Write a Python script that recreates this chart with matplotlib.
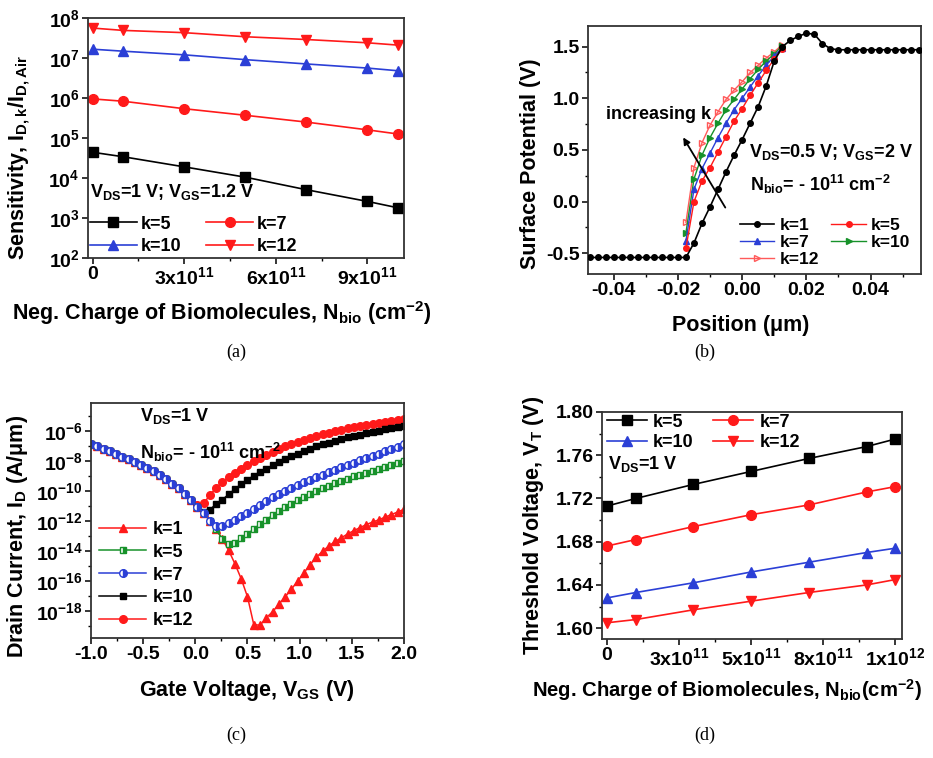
import numpy as np
import matplotlib
matplotlib.use('Agg')
import matplotlib.pyplot as plt
from matplotlib.ticker import MultipleLocator, FixedLocator, FuncFormatter, NullLocator

plt.rcParams['font.family'] = ['Liberation Sans', 'DejaVu Sans']
plt.rcParams['font.weight'] = 'bold'
plt.rcParams['axes.labelweight'] = 'bold'
plt.rcParams['mathtext.fontset'] = 'custom'
plt.rcParams['mathtext.rm'] = 'Liberation Sans:bold'
plt.rcParams['mathtext.it'] = 'Liberation Sans:bold'
plt.rcParams['mathtext.bf'] = 'Liberation Sans:bold'
plt.rcParams['mathtext.sf'] = 'Liberation Sans:bold'
plt.rcParams['mathtext.default'] = 'rm'

RED = '#ff1a1a'
BLUE = '#2b3fd6'
GREEN = '#17922a'
PINK = '#ff5a5a'

# ---- (a) sensitivity vs charge ----
nbio_a = [0, 1e11, 3e11, 5e11, 7e11, 9e11, 1e12]
sens_k5 = [4.4e4, 3.4e4, 1.9e4, 1.05e4, 5.1e3, 2.6e3, 1.8e3]
sens_k7 = [9.5e5, 8.3e5, 5.4e5, 3.7e5, 2.5e5, 1.6e5, 1.26e5]
sens_k10 = [1.66e7, 1.48e7, 1.2e7, 9.1e6, 7.1e6, 5.6e6, 4.8e6]
sens_k12 = [5.6e7, 4.9e7, 4.3e7, 3.4e7, 2.9e7, 2.4e7, 2.1e7]
a_xticks = [0, 3e11, 6e11, 9e11]
a_xlabels = ['0', r'3x10$^{11}$', r'6x10$^{11}$', r'9x10$^{11}$']

# ---- (b) surface potential vs position ----
pos_left = [-0.0475, -0.045, -0.0425, -0.04, -0.0375, -0.035, -0.0325, -0.03,
            -0.0275, -0.025, -0.0225, -0.02]
psi_left = [-0.54, -0.54, -0.54, -0.54, -0.54, -0.54, -0.54, -0.54,
            -0.54, -0.54, -0.54, -0.54]
pos_mid = [-0.0175, -0.015, -0.0125, -0.01, -0.0075, -0.005, -0.0025, 0.0,
           0.0025, 0.005, 0.0075, 0.01, 0.0125]
psi_k1 = [-0.54, -0.40, -0.21, -0.05, 0.12, 0.29, 0.45, 0.60, 0.76, 0.92, 1.12, 1.36, 1.50]
psi_k5 = [-0.45, 0.00, 0.20, 0.33, 0.48, 0.63, 0.78, 0.90, 1.03, 1.15, 1.27, 1.38, 1.48]
psi_k7 = [-0.38, 0.12, 0.32, 0.47, 0.62, 0.76, 0.89, 1.00, 1.11, 1.22, 1.32, 1.41, 1.49]
psi_k10 = [-0.30, 0.22, 0.45, 0.62, 0.76, 0.89, 0.99, 1.09, 1.19, 1.28, 1.36, 1.43, 1.51]
psi_k12 = [-0.20, 0.33, 0.57, 0.74, 0.87, 0.99, 1.08, 1.16, 1.25, 1.32, 1.39, 1.45, 1.52]
pos_right = [0.015, 0.0175, 0.02, 0.0225, 0.025, 0.0275, 0.03, 0.0325, 0.035, 0.0375,
             0.04, 0.0425, 0.045, 0.0475, 0.05, 0.0525, 0.055]
psi_right = [1.56, 1.60, 1.63, 1.62, 1.53, 1.48, 1.47, 1.47, 1.47, 1.47,
             1.47, 1.47, 1.47, 1.47, 1.47, 1.47, 1.47]

# ---- (c) drain current vs gate voltage (log10 of A/um) ----
vgs = [-1.00, -0.94, -0.88, -0.82, -0.76, -0.70, -0.64, -0.58, -0.52, -0.46,
       -0.40, -0.34, -0.28, -0.22, -0.16, -0.10, -0.04, 0.02, 0.08, 0.14,
       0.20, 0.26, 0.32, 0.38, 0.44, 0.50, 0.56, 0.62, 0.68, 0.74,
       0.80, 0.86, 0.92, 0.98, 1.04, 1.10, 1.16, 1.22, 1.28, 1.34,
       1.40, 1.46, 1.52, 1.58, 1.64, 1.70, 1.76, 1.82, 1.88, 1.94, 2.00]
# common branch for all k (VGS = -1.00 ... 0.50)
logid_branch = [-6.82, -6.98, -7.15, -7.32, -7.50, -7.68, -7.86, -8.05, -8.24, -8.44,
                -8.64, -8.92, -9.20, -9.49, -9.80, -10.18, -10.60, -11.02, -11.45, -11.95,
                -12.55, -13.20, -13.95, -14.85, -15.85, -17.05]
logid_k1_tail = [-18.90, -18.95, -18.45, -18.05, -17.55, -17.05, -16.55, -16.00, -15.45, -14.90,
                 -14.40, -14.00, -13.65, -13.35, -13.10, -12.85, -12.62, -12.42, -12.22, -12.05,
                 -11.90, -11.72, -11.55, -11.38, -11.20]
logid_k5_tail = [-13.55, -13.42, -13.15, -12.85, -12.52, -12.20, -11.90, -11.60, -11.32, -11.06,
                 -10.82, -10.60, -10.38, -10.17, -9.97, -9.79, -9.62, -9.46, -9.30, -9.15,
                 -9.01, -8.88, -8.75, -8.62, -8.50, -8.37, -8.24, -8.11, -7.98]
logid_k7_tail = [-12.35, -12.30, -12.12, -11.90, -11.66, -11.42, -11.16, -10.90, -10.65, -10.40,
                 -10.17, -9.96, -9.76, -9.57, -9.39, -9.22, -9.05, -8.88, -8.72, -8.56,
                 -8.40, -8.24, -8.08, -7.93, -7.78, -7.63, -7.48, -7.33, -7.18, -7.02, -6.86]
logid_k10_tail = [-11.35, -11.22, -10.85, -10.55, -10.20, -9.85, -9.52, -9.22, -8.95, -8.70,
                  -8.48, -8.26, -8.05, -7.85, -7.66, -7.48, -7.31, -7.15, -7.00, -6.87,
                  -6.74, -6.62, -6.51, -6.40, -6.30, -6.21, -6.12, -6.03, -5.95, -5.87,
                  -5.80, -5.73, -5.66]
logid_k12_tail = [-10.92, -10.80, -10.25, -9.75, -9.38, -9.05, -8.78, -8.50, -8.24, -8.00,
                  -7.78, -7.58, -7.38, -7.18, -7.00, -6.85, -6.71, -6.57, -6.44, -6.31,
                  -6.20, -6.09, -5.99, -5.89, -5.79, -5.71, -5.64, -5.57, -5.51, -5.45,
                  -5.38, -5.32, -5.26, -5.20]

# ---- (d) threshold voltage vs charge ----
nbio_d = [0, 1e11, 3e11, 5e11, 7e11, 9e11, 1e12]
vt_k5 = [1.713, 1.720, 1.733, 1.745, 1.757, 1.768, 1.775]
vt_k7 = [1.676, 1.682, 1.694, 1.705, 1.714, 1.726, 1.731]
vt_k10 = [1.628, 1.633, 1.642, 1.652, 1.661, 1.670, 1.674]
vt_k12 = [1.605, 1.608, 1.617, 1.625, 1.633, 1.640, 1.645]
d_xticks = [0, 2.5e11, 5e11, 7.5e11, 1e12]
d_xlabels = ['0', r'3x10$^{11}$', r'5x10$^{11}$', r'8x10$^{11}$', r'1x10$^{12}$']

W, H = 933, 758
fig = plt.figure(figsize=(W / 100, H / 100), dpi=100)

FS = 13      # annotation / legend text
LFS = 15.5   # axis labels
TFS = 14     # tick labels


def px_axes(l, t, r, b):
    return fig.add_axes([l / W, 1 - b / H, (r - l) / W, (b - t) / H])


def style(ax):
    for s in ax.spines.values():
        s.set_linewidth(1.3)
        s.set_color('#333333')
    ax.tick_params(which='major', direction='out', length=4, width=1.1, labelsize=TFS, pad=2)
    ax.tick_params(which='minor', direction='out', length=2.5, width=1.0)
    for lab in ax.get_xticklabels() + ax.get_yticklabels():
        lab.set_fontweight('bold')


def pow10(v, pos):
    return r'$10^{%d}$' % round(np.log10(v))


def caption(x, y, s):
    fig.text(x / W, 1 - y / H, s, family='Liberation Serif', weight='normal',
             fontsize=13, ha='center', va='center')


# ================= (a)
ax = px_axes(88, 18, 404, 258)
la = dict(lw=1.2, ms=7)
h5, = ax.plot(nbio_a, sens_k5, '-s', color='black', **la)
h7, = ax.plot(nbio_a, sens_k7, '-o', color=RED, **la)
h10, = ax.plot(nbio_a, sens_k10, '-^', color=BLUE, **la)
h12, = ax.plot(nbio_a, sens_k12, '-v', color=RED, **la)
ax.set_yscale('log')
ax.set_ylim(1e2, 1e8)
ax.set_xlim(-0.15e11, 10.2e11)
ax.yaxis.set_major_locator(FixedLocator([1e2, 1e3, 1e4, 1e5, 1e6, 1e7, 1e8]))
ax.yaxis.set_major_formatter(FuncFormatter(pow10))
ax.yaxis.set_minor_locator(NullLocator())
ax.set_xticks(a_xticks, a_xlabels)
ax.xaxis.set_minor_locator(MultipleLocator(1.5e11))
style(ax)
ax.set_ylabel(r'Sensitivity, I$_{D,k}$/I$_{D,Air}$', fontsize=LFS)
ax.yaxis.set_label_coords(-0.177, 0.42)
ax.set_xlabel(r'Neg. Charge of Biomolecules, N$_{bio}$ (cm$^{-2}$)', fontsize=LFS)
ax.xaxis.set_label_coords(0.424, -0.17)
ax.text(0.005, 0.275, r'V$_{DS}$=1 V; V$_{GS}$=1.2 V', transform=ax.transAxes,
        fontsize=FS, va='center', ha='left')
ax.legend([h5, h10, h7, h12], ['k=5', 'k=10', 'k=7', 'k=12'], ncol=2, frameon=False,
          loc='lower left', bbox_to_anchor=(0.0, 0.005), fontsize=FS, borderpad=0.1,
          borderaxespad=0, handlelength=2.6, handletextpad=0.2, columnspacing=1.4,
          labelspacing=0.3)
caption(236, 352, '(a)')

# ================= (b)
ax = px_axes(588, 26, 921, 274)
ax.plot(pos_mid, psi_k12, '->', color=PINK, lw=1.0, ms=4, mfc='none', mew=1.0, zorder=3)
ax.plot(pos_mid, psi_k10, '->', color=GREEN, lw=1.0, ms=4, zorder=3)
ax.plot(pos_mid, psi_k7, '-^', color=BLUE, lw=1.0, ms=4, zorder=3)
ax.plot(pos_mid, psi_k5, '-o', color=RED, lw=1.0, ms=4, zorder=3)
ax.plot(pos_left + pos_mid + pos_right, psi_left + psi_k1 + psi_right, '-o',
        color='black', lw=1.2, ms=4, zorder=4)
style(ax)
ax.set_xlim(-0.048, 0.0557)
ax.set_ylim(-0.70, 1.70)
ax.xaxis.set_major_locator(MultipleLocator(0.02))
ax.xaxis.set_minor_locator(MultipleLocator(0.01))
ax.xaxis.set_major_formatter(FuncFormatter(lambda v, p: '%.2f' % v if abs(v) > 1e-9 else '0.00'))
ax.yaxis.set_major_locator(MultipleLocator(0.5))
ax.yaxis.set_minor_locator(MultipleLocator(0.25))
ax.yaxis.set_major_formatter(FuncFormatter(lambda v, p: '%.1f' % v if abs(v) > 1e-9 else '0.0'))
ax.set_ylabel('Surface Potential (V)', fontsize=LFS)
ax.yaxis.set_label_coords(-0.141, 0.444)
ax.set_xlabel('Position (μm)', fontsize=LFS)
ax.xaxis.set_label_coords(0.459, -0.165)
ax.text(-0.0425, 0.84, 'increasing k', fontsize=FS, va='center', ha='left')
ax.annotate('', xy=(-0.0188, 0.645), xytext=(-0.0048, -0.08),
            arrowprops=dict(arrowstyle='-|>', color='black', lw=1.3, mutation_scale=10))
ax.text(0.002, 0.48, r'V$_{DS}$=0.5 V; V$_{GS}$=2 V', fontsize=FS, va='center', ha='left')
ax.text(0.0025, 0.17, r'N$_{bio}$= - 10$^{11}$ cm$^{-2}$', fontsize=FS, va='center', ha='left')
hb = [plt.Line2D([], [], color='black', marker='o', ms=4, lw=1.2),
      plt.Line2D([], [], color=RED, marker='o', ms=4, lw=1.0),
      plt.Line2D([], [], color=BLUE, marker='^', ms=4, lw=1.0),
      plt.Line2D([], [], color=GREEN, marker='>', ms=4, lw=1.0),
      plt.Line2D([], [], color=PINK, marker='>', ms=4, lw=1.0, mfc='none')]
lb = ['k=1', 'k=5', 'k=7', 'k=10', 'k=12']
ax.legend([hb[0], hb[2], hb[4], hb[1], hb[3]], [lb[0], lb[2], lb[4], lb[1], lb[3]],
          ncol=2, frameon=False, loc='lower left', bbox_to_anchor=(0.45, 0.02),
          fontsize=12.5, borderpad=0.1, borderaxespad=0, handlelength=2.0,
          handletextpad=0.3, columnspacing=0.7, labelspacing=0.12)
caption(705, 352, '(b)')

# ================= (c)
ax = px_axes(91, 403, 404, 638)
lc = dict(lw=1.1, ms=5.5)
id_k1 = 10 ** np.array(logid_branch + logid_k1_tail)
id_k5 = 10 ** np.array(logid_branch[:22] + logid_k5_tail)
id_k7 = 10 ** np.array(logid_branch[:20] + logid_k7_tail)
id_k10 = 10 ** np.array(logid_branch[:18] + logid_k10_tail)
id_k12 = 10 ** np.array(logid_branch[:17] + logid_k12_tail)
c1, = ax.plot(vgs, id_k1, '-^', color=RED, **lc)
c12, = ax.plot(vgs, id_k12, '-o', color=RED, **lc)
c10, = ax.plot(vgs, id_k10, '-s', color='black', lw=1.1, ms=5)
c5, = ax.plot(vgs, id_k5, '-s', color=GREEN, fillstyle='right', markerfacecoloralt='white',
              lw=1.1, ms=5)
c7, = ax.plot(vgs, id_k7, '-o', color=BLUE, fillstyle='right', markerfacecoloralt='white', **lc)
ax.set_yscale('log')
ax.set_xlim(-1.0, 2.0)
ax.set_ylim(10 ** -19.8, 10 ** -4.1)
ax.yaxis.set_major_locator(FixedLocator([1e-18, 1e-16, 1e-14, 1e-12, 1e-10, 1e-8, 1e-6]))
ax.yaxis.set_minor_locator(FixedLocator([1e-19, 1e-17, 1e-15, 1e-13, 1e-11, 1e-9, 1e-7, 1e-5]))
ax.yaxis.set_major_formatter(FuncFormatter(pow10))
ax.yaxis.set_minor_formatter(FuncFormatter(lambda v, p: ''))
ax.xaxis.set_major_locator(MultipleLocator(0.5))
ax.xaxis.set_minor_locator(MultipleLocator(0.25))
ax.xaxis.set_major_formatter(FuncFormatter(lambda v, p: '%.1f' % v if abs(v) > 1e-9 else '0.0'))
style(ax)
ax.set_ylabel(r'Drain Current, I$_D$ (A/μm)', fontsize=LFS)
ax.yaxis.set_label_coords(-0.195, 0.43)
ax.set_xlabel(r'Gate Voltage, V$_{GS}$ (V)', fontsize=LFS)
ax.xaxis.set_label_coords(0.498, -0.17)
ax.text(0.157, 0.945, r'V$_{DS}$=1 V', transform=ax.transAxes, fontsize=FS, va='center')
ax.text(0.157, 0.79, r'N$_{bio}$= - 10$^{11}$ cm$^{-2}$', transform=ax.transAxes,
        fontsize=FS, va='center')
ax.legend([c1, c5, c7, c10, c12], ['k=1', 'k=5', 'k=7', 'k=10', 'k=12'], frameon=False,
          loc='lower left', bbox_to_anchor=(0.02, 0.03), fontsize=FS, borderpad=0.1,
          borderaxespad=0, handlelength=2.6, handletextpad=0.35, labelspacing=0.32)
caption(236, 735, '(c)')

# ================= (d)
ax = px_axes(602, 412, 902, 639)
ld = dict(lw=1.2, ms=7)
d5, = ax.plot(nbio_d, vt_k5, '-s', color='black', **ld)
d7, = ax.plot(nbio_d, vt_k7, '-o', color=RED, **ld)
d10, = ax.plot(nbio_d, vt_k10, '-^', color=BLUE, **ld)
d12, = ax.plot(nbio_d, vt_k12, '-v', color=RED, **ld)
ax.set_xlim(-0.17e11, 1.023e12)
ax.set_ylim(1.59, 1.80)
ax.set_xticks(d_xticks, d_xlabels)
ax.xaxis.set_minor_locator(MultipleLocator(1.25e11))
ax.yaxis.set_major_locator(MultipleLocator(0.04))
ax.yaxis.set_minor_locator(MultipleLocator(0.02))
ax.yaxis.set_major_formatter(FuncFormatter(lambda v, p: '%.2f' % v))
style(ax)
ax.set_ylabel(r'Threshold Voltage, V$_T$ (V)', fontsize=LFS)
ax.yaxis.set_label_coords(-0.187, 0.5)
ax.set_xlabel(r'Neg. Charge of Biomolecules, N$_{bio}$(cm$^{-2}$)', fontsize=14.6)
ax.xaxis.set_label_coords(0.415, -0.17)
ax.text(0.02, 0.77, r'V$_{DS}$=1 V', transform=ax.transAxes, fontsize=FS, va='center')
ax.legend([d5, d10, d7, d12], ['k=5', 'k=10', 'k=7', 'k=12'], ncol=2, frameon=False,
          loc='upper left', bbox_to_anchor=(0.01, 1.0), fontsize=FS, borderpad=0.1,
          borderaxespad=0, handlelength=2.2, handletextpad=0.35, columnspacing=1.1,
          labelspacing=0.2)
caption(705, 735, '(d)')

fig.savefig('out.png', dpi=100)
